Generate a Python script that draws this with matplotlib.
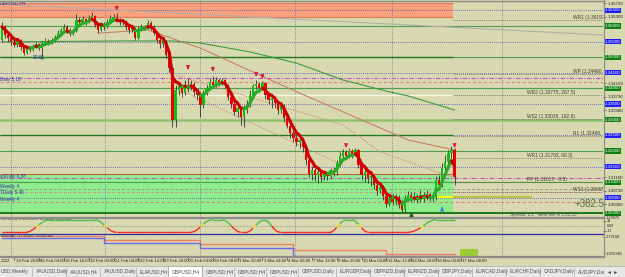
import matplotlib
matplotlib.use('Agg')
import matplotlib.pyplot as plt
from matplotlib.lines import Line2D
from matplotlib.patches import Rectangle
from matplotlib.collections import LineCollection
import numpy as np
import pandas as pd

plt.rcParams['font.family'] = ['Liberation Sans', 'DejaVu Sans']

# ---------------- data ----------------
first_open = 1.3555
close = [1.3597, 1.3571, 1.3561, 1.3549, 1.3539, 1.3555, 1.3533, 1.3513, 1.3526, 1.3523,
         1.3536, 1.3542, 1.3529, 1.3545, 1.3552, 1.3545, 1.3555, 1.3565, 1.3577, 1.3587,
         1.3597, 1.3587, 1.3574, 1.3584, 1.3619, 1.3613, 1.3622, 1.3613, 1.3625, 1.3632,
         1.3603, 1.3587, 1.3603, 1.3597, 1.3613, 1.3622, 1.3629, 1.3619, 1.3613, 1.3616,
         1.3597, 1.3587, 1.3593, 1.3561, 1.3587, 1.3597, 1.3593, 1.3609, 1.3597, 1.3577,
         1.3555, 1.3542, 1.3552, 1.3507, 1.3465, 1.3299, 1.3395, 1.3408, 1.3385, 1.3411,
         1.3401, 1.3414, 1.3389, 1.3379, 1.3347, 1.3385, 1.3401, 1.3421, 1.3411, 1.3427,
         1.3417, 1.3427, 1.3411, 1.3373, 1.3350, 1.3325, 1.3337, 1.3309, 1.3331, 1.3347,
         1.3379, 1.3408, 1.3414, 1.3401, 1.3417, 1.3379, 1.3363, 1.3369, 1.3353, 1.3331,
         1.3344, 1.3305, 1.3280, 1.3257, 1.3241, 1.3229, 1.3235, 1.3213, 1.3171, 1.3126,
         1.3139, 1.3123, 1.3133, 1.3117, 1.3126, 1.3120, 1.3139, 1.3133, 1.3161, 1.3184,
         1.3197, 1.3184, 1.3200, 1.3187, 1.3203, 1.3155, 1.3123, 1.3133, 1.3113, 1.3120,
         1.3091, 1.3072, 1.3085, 1.3056, 1.3030, 1.3049, 1.3037, 1.3053, 1.3027, 1.3011,
         1.3049, 1.3059, 1.3046, 1.3056, 1.3043, 1.3059, 1.3049, 1.3062, 1.3046, 1.3053,
         1.3107, 1.3091, 1.3145, 1.3165, 1.3193, 1.3203, 1.3117]
high = [1.3613, 1.3603, 1.3577, 1.3568, 1.3561, 1.3561, 1.3558, 1.3539, 1.3536, 1.3536,
        1.3542, 1.3549, 1.3545, 1.3552, 1.3561, 1.3558, 1.3561, 1.3571, 1.3587, 1.3593,
        1.3606, 1.3603, 1.3593, 1.3590, 1.3638, 1.3629, 1.3632, 1.3625, 1.3635, 1.3645,
        1.3635, 1.3613, 1.3613, 1.3613, 1.3622, 1.3635, 1.3638, 1.3641, 1.3625, 1.3622,
        1.3619, 1.3603, 1.3603, 1.3597, 1.3600, 1.3606, 1.3603, 1.3619, 1.3616, 1.3603,
        1.3584, 1.3561, 1.3561, 1.3555, 1.3513, 1.3472, 1.3411, 1.3417, 1.3414, 1.3427,
        1.3433, 1.3427, 1.3421, 1.3401, 1.3389, 1.3395, 1.3411, 1.3433, 1.3440, 1.3437,
        1.3433, 1.3433, 1.3430, 1.3414, 1.3379, 1.3363, 1.3353, 1.3344, 1.3347, 1.3363,
        1.3395, 1.3414, 1.3427, 1.3421, 1.3424, 1.3420, 1.3382, 1.3379, 1.3376, 1.3360,
        1.3350, 1.3350, 1.3312, 1.3286, 1.3267, 1.3251, 1.3245, 1.3238, 1.3219, 1.3177,
        1.3152, 1.3145, 1.3145, 1.3139, 1.3136, 1.3133, 1.3145, 1.3149, 1.3171, 1.3197,
        1.3206, 1.3203, 1.3209, 1.3206, 1.3209, 1.3206, 1.3161, 1.3142, 1.3136, 1.3129,
        1.3123, 1.3097, 1.3094, 1.3091, 1.3065, 1.3059, 1.3062, 1.3062, 1.3059, 1.3043,
        1.3059, 1.3072, 1.3069, 1.3069, 1.3062, 1.3075, 1.3069, 1.3075, 1.3065, 1.3062,
        1.3120, 1.3123, 1.3161, 1.3187, 1.3203, 1.3216, 1.3209]
low = [1.3549, 1.3561, 1.3549, 1.3539, 1.3533, 1.3533, 1.3523, 1.3507, 1.3510, 1.3517,
       1.3520, 1.3529, 1.3523, 1.3501, 1.3539, 1.3539, 1.3542, 1.3549, 1.3561, 1.3571,
       1.3581, 1.3577, 1.3568, 1.3571, 1.3581, 1.3600, 1.3606, 1.3603, 1.3609, 1.3619,
       1.3597, 1.3577, 1.3584, 1.3587, 1.3593, 1.3606, 1.3616, 1.3613, 1.3603, 1.3603,
       1.3587, 1.3577, 1.3581, 1.3555, 1.3558, 1.3584, 1.3587, 1.3590, 1.3587, 1.3571,
       1.3545, 1.3529, 1.3533, 1.3497, 1.3453, 1.3277, 1.3277, 1.3379, 1.3373, 1.3379,
       1.3389, 1.3395, 1.3376, 1.3363, 1.3309, 1.3337, 1.3379, 1.3395, 1.3401, 1.3405,
       1.3408, 1.3411, 1.3401, 1.3363, 1.3337, 1.3315, 1.3309, 1.3283, 1.3277, 1.3321,
       1.3341, 1.3369, 1.3398, 1.3389, 1.3395, 1.3366, 1.3350, 1.3337, 1.3337, 1.3318,
       1.3321, 1.3293, 1.3273, 1.3241, 1.3229, 1.3216, 1.3209, 1.3197, 1.3155, 1.3117,
       1.3107, 1.3104, 1.3097, 1.3101, 1.3107, 1.3107, 1.3113, 1.3120, 1.3123, 1.3152,
       1.3171, 1.3174, 1.3177, 1.3177, 1.3184, 1.3145, 1.3107, 1.3101, 1.3097, 1.3088,
       1.3078, 1.3059, 1.3065, 1.3043, 1.3021, 1.3024, 1.3027, 1.3027, 1.3017, 1.3005,
       1.3005, 1.3040, 1.3037, 1.3040, 1.3033, 1.3037, 1.3037, 1.3043, 1.3040, 1.3037,
       1.3043, 1.3075, 1.3085, 1.3139, 1.3155, 1.3177, 1.3091]

# oscillator (upper sub-window)
osc = [-14, -14, -14, -14, -14, -14, -14, -14, -14, -12, -8, -3, 3, 8, 12,
       14, 14, 14, 14, 14, 14, 14, 14, 14, 14, 14, 14, 14, 14, 14, 14,
       12, 8, 2, -4, -10, -13,
       -14, -14, -14, -14, -14, -14, -14, -14, -14, -14, -14, -14, -14,
       -14, -14, -14, -14, -14, -14, -14, -14, -14, -14, -14, -14,
       -12, -8, -2, 5, 10, 13,
       14, 14, 14, 14,
       12, 7, 0, -7, -12,
       -14, -14, -14,
       -11, -5, 2, 9, 13, 13,
       8, 0, -8, -13,
       -14, -14, -14, -14, -14, -14, -14, -14, -14, -14, -14, -14, -14, -14, -14, -14, -14,
       -10, -3, 5, 11, 14,
       14, 14,
       11, 4, -4, -11,
       -14, -14, -14, -14, -14, -14, -14, -14, -14, -14, -14, -14, -14, -14,
       -13, -11, -8, -4, 1, 6, 10, 13,
       14, 14, 14, 14, 14, 14, 14]

# lower sub-window step series
step_bars = [0, 33, 64, 94, 124, 146]
salmon_steps = [-744712, -936901, -1156545, -1486011, -1678200, -1678200]
blue_steps = [-827079, -1101634, -1376189, -1842932, -1842932, -1842932]

# long moving averages (vertices)
ma_long_bars = [0, 40, 55, 64, 80, 95, 110, 125, 131, 146]
ma_long_prices = [1.3549, 1.3552, 1.3552, 1.3545, 1.3517, 1.3481, 1.3427, 1.3389, 1.3376, 1.3331]
ma_brown_bars = [31, 47, 64, 96, 131, 146]
ma_brown_prices = [1.3577, 1.3587, 1.3529, 1.3385, 1.3235, 1.3203]
trend_bars = [56, 110, 122, 146]
trend_prices = [1.3443, 1.3283, 1.3197, 1.3113]
trend2_bars = [56, 110]
trend2_prices = [1.3401, 1.3155]
gray_bars = [-0.6, 193.9]
gray_prices = [1.3670, 1.3571]

# levels
round_levels = [1.3600, 1.3500, 1.3400, 1.3300, 1.3200, 1.3100, 1.3000]
half_levels = [1.3650, 1.3550, 1.3450, 1.3350, 1.3250, 1.3150, 1.3050]
tick_prices = [1.36730, 1.36300, 1.35870, 1.35440, 1.35010, 1.34590, 1.34160, 1.33730,
               1.33300, 1.32870, 1.32440, 1.32010, 1.31590, 1.31160, 1.30730, 1.30300, 1.29870]
resist_zone = (1.3629, 1.3673)
support_zone = (1.3005, 1.3126)
# right-hand pivot labels (column A is cut by the price scale, as in the terminal)
pivots_a = [("WR1 (1.36193,", 1.36193), ("WP (1.34460,", 1.34460),
            ("R1 (1.32488,", 1.32488), ("WS1 (1.30695,", 1.30695)]
pivots_b = [("WR2 (1.33775, 267.5)", 1.33775), ("WS2 (1.33028, 192.9)", 1.33028),
            ("WR1 (1.31783, 68.3)", 1.31783), ("PP (1.31017, -8.3)", 1.31017)]
sell_bars = [37, 60, 68, 82, 84, 111, 146]
sell_prices = [1.3664, 1.3475, 1.3469, 1.3453, 1.3446, 1.3225, 1.3225]
buy_bars = [13, 142]
buy_prices = [1.3495, 1.3008]

label_bars = [4, 12, 20, 28, 36, 44, 52, 60, 68, 76, 84, 92, 100, 108, 116, 124, 132, 140, 148]
label_texts = ["14 Feb 20:00", "16 Feb 04:00", "16 Feb 16:00", "18 Feb 00:00", "21 Feb 04:00",
               "22 Feb 12:00", "23 Feb 20:00", "25 Feb 04:00", "28 Feb 08:00", "1 Mar 20:00",
               "3 Mar 04:00", "4 Mar 08:00", "7 Mar 12:00", "8 Mar 20:00", "10 Mar 04:00",
               "11 Mar 12:00", "14 Mar 20:00", "16 Mar 00:00", "17 Mar 08:00"]
tab_labels = ["USD,Weekly", "XAUUSD,Daily", "XAUUSD,H4", "XAUUSD,Daily", "EURUSD,H4",
              "GBPUSD,H4", "GBPUSD,H4", "GBPUSD,H4", "GBPUSD,H4", "GBPUSD,Daily",
              "EURGBP,Daily", "GBPNZD,Daily", "EURNZD,Daily", "GBPJPY,Daily", "EURCAD,Daily",
              "EURCHF,Daily", "CADJPY,Daily", "AUDJPY,Dai"]

# ---------------- layout ----------------
W, H = 625, 277
BG = '#d9d9b1'
P_TOP = 1.3683
P_BOT = P_TOP - 217 * 0.00032
N = len(close)
bars = np.arange(N)
c = np.array(close)
o = np.array([first_open] + close[:-1])
hi = np.maximum(np.array(high), np.maximum(o, c))
lo = np.minimum(np.array(low), np.minimum(o, c))

fig = plt.figure(figsize=(W / 100, H / 100), dpi=100)
fig.patch.set_facecolor(BG)


def frect(x0, y0, x1, y1):
    return [x0 / W, 1 - y1 / H, (x1 - x0) / W, (y1 - y0) / H]


def bx(px):
    return (px - 2) / 3.1


XL = (bx(0), bx(603))
ZONE_END = bx(453)
vgrid = [bx(v) for v in (11, 105, 200, 295, 392, 502)]

ax = fig.add_axes(frect(0, 0, 603, 217))
ax1 = fig.add_axes(frect(0, 218, 603, 234))
ax2 = fig.add_axes(frect(0, 234, 603, 257))
for a in (ax, ax1, ax2):
    a.set_facecolor(BG)
    a.set_xlim(*XL)
    for s in a.spines.values():
        s.set_visible(False)
    a.tick_params(left=False, bottom=False, labelbottom=False, labelleft=False)
    for v in vgrid:
        a.axvline(v, color='#6868b0', lw=0.6, ls=(0, (1, 1.6)), zorder=0.6)
ax.set_ylim(P_BOT, P_TOP)

# zones
ax.add_patch(Rectangle((XL[0], resist_zone[0]), ZONE_END - XL[0], resist_zone[1] - resist_zone[0],
                       fc='#f9a07c', ec='none', zorder=0.5))
ax.hlines(list(resist_zone), XL[0], ZONE_END, color='#e47a55', lw=0.8, zorder=0.7)
ax.add_patch(Rectangle((XL[0], support_zone[0]), ZONE_END - XL[0], support_zone[1] - support_zone[0],
                       fc='#8eee8e', ec='none', zorder=0.5))
ax.hlines(support_zone[1], XL[0], ZONE_END, color='#c0603c', lw=0.8, zorder=0.7)

# horizontal levels
ax.hlines(half_levels, XL[0], XL[1], colors='#4848c8', lw=0.6, linestyles=(0, (1, 1.5)), zorder=0.8)
for lv in round_levels:
    if lv == 1.33:
        ax.axhline(lv, color='#8cc46c', lw=1.8, zorder=0.8)
    elif lv == 1.30:
        ax.axhline(lv, color='#0e700e', lw=1.3, zorder=0.8)
    else:
        ax.axhline(lv, color='#4ea04e', lw=0.8, zorder=0.8)
ax.hlines([1.3250, 1.3500], XL[0], ZONE_END, color='#227a22', lw=1.0, zorder=0.85)
ax.hlines(1.33775, XL[0], ZONE_END, color='#f6f6e4', lw=1.0, zorder=0.85)
ax.axhline(1.3433, color='#c84ac8', lw=0.8, ls=(0, (4, 1.5, 1, 1.5)), zorder=0.85)
ax.axhline(1.3421, color='#e48484', lw=0.8, ls=(0, (3, 2)), zorder=0.85)
ax.axhline(1.3113, color='#c84ac8', lw=0.8, ls=(0, (4, 1.5, 1, 1.5)), zorder=0.85)
ax.axhline(1.3078, color='#a09090', lw=0.7, ls=(0, (3, 2)), zorder=0.85)
ax.axhline(1.3069, color='#d89090', lw=0.7, ls=(0, (3, 2)), zorder=0.85)
ax.axhline(1.3037, color='#e08080', lw=0.8, ls=(0, (3, 2)), zorder=0.85)
for lbl, pv in pivots_a + pivots_b:
    ax.hlines(pv, ZONE_END, XL[1], color='#6c6c48', lw=0.6, linestyles=(0, (1, 1.3)), zorder=0.85)
for lbl, pv in pivots_a:
    ax.text(bx(573), pv, lbl, fontsize=3.5, color='#3c3c28', va='bottom', ha='left',
            clip_on=True, zorder=5)
for lbl, pv in pivots_b:
    ax.text(bx(527), pv, lbl, fontsize=3.5, color='#3c3c28', va='bottom', ha='left',
            clip_on=True, zorder=5)

# yellow line
ax.hlines(1.3052, bx(437), ZONE_END, color='#ffff00', lw=1.6, zorder=1.2)
ax.hlines(1.3052, ZONE_END, bx(532), color='#b8c444', lw=1.6, zorder=1.2)

# trend lines / MAs
ax.plot(gray_bars, gray_prices, color='#b0b0a8', lw=0.8, zorder=0.9)
ax.plot(ma_long_bars, ma_long_prices, color='#3c9c3c', lw=0.8, zorder=1)
ax.plot(ma_brown_bars, ma_brown_prices, color='#c07860', lw=0.7, zorder=1)
ax.plot(trend_bars, trend_prices, color='#d08070', lw=0.6, ls=(0, (2, 1.5)), zorder=1)
ax.plot(trend2_bars, trend2_prices, color='#d08070', lw=0.6, ls=(0, (2, 1.5)), zorder=1)

# candles
up = c >= o
ax.vlines(bars, lo, hi, color='#303030', lw=0.6, zorder=2)
ax.bar(bars[up], (c - o)[up], bottom=o[up], width=0.72, color='#10c010', edgecolor='none', zorder=2.1)
ax.bar(bars[~up], (c - o)[~up], bottom=o[~up], width=0.72, color='#ee0000', edgecolor='none', zorder=2.1)

# fast MA colored by direction
ema = pd.Series(c).ewm(alpha=0.36, adjust=False).mean().values
segs = [[(i - 1, ema[i - 1]), (i, ema[i])] for i in range(1, N)]
cols = ['#2aa82a' if ema[i] >= ema[i - 1] else '#cc0000' for i in range(1, N)]
ax.add_collection(LineCollection(segs, colors=cols, linewidths=2.2, zorder=3, capstyle='round'))

# arrows
for b, pz in zip(sell_bars, sell_prices):
    ax.annotate('', xy=(b, pz - 0.0024), xytext=(b, pz),
                arrowprops=dict(arrowstyle='-|>', color='#dc1a4a', lw=1.0, mutation_scale=4.5), zorder=4)
for b, pz in zip(buy_bars, buy_prices):
    col = '#20a020' if b < 50 else '#3a7ae0'
    ax.annotate('', xy=(b, pz + 0.0022), xytext=(b, pz),
                arrowprops=dict(arrowstyle='-|>', color=col, lw=1.0, mutation_scale=4.5), zorder=4)
ax.plot([132], [1.29935], marker='^', ms=2.5, color='#106010', zorder=4, clip_on=False)

# left labels
small = dict(fontsize=3.3, zorder=5)
ax.text(bx(0), 1.3675, 'GBPUSD,H4', color='#2a2aa0', va='center', **small)
ax.text(bx(33), 1.3498, '20.88', color='#3030a0', va='center', **small)
ax.text(bx(0), 1.3430, 'Daily 5.18', color='#3030a0', va='center', **small)
ax.text(bx(0), 1.3117, 'xnDaily 6.88', color='#3030a0', va='center', **small)
ax.text(bx(0), 1.3086, 'Weekly 4', color='#3030a0', va='center', **small)
ax.text(bx(0), 1.3068, 'TDaily 5.48', color='#3030a0', va='center', **small)
ax.text(bx(0), 1.3046, 'Weekly 4', color='#3030a0', va='center', **small)
ax.text(bx(575), 1.3030, '+382.5', fontsize=7, color='#4e6e3e', va='center', ha='left', zorder=5)
ax.text(bx(510), 1.2996, 'Spread: 1.1   Next bar in 1:01:10', fontsize=3.3, color='#505050',
        va='center', ha='left', zorder=5)

# right price axis (plain ticks kept clear of the boxed level labels)
box_levels = half_levels + round_levels
shown_ticks = [p for p in tick_prices if min(abs(p - b) for b in box_levels) > 0.0015]
ax.yaxis.tick_right()
ax.set_yticks(shown_ticks)
ax.set_yticklabels([f'{p:.5f}' for p in shown_ticks])
ax.tick_params(axis='y', right=True, labelright=True, length=2, width=0.5, color='#404040',
               labelsize=3.2, pad=1, labelcolor='#202020')
for p in half_levels:
    ax.text(1.003, p, f'{p:.5f}', transform=ax.get_yaxis_transform(), fontsize=3.2, color='white',
            va='center', ha='left', clip_on=False, zorder=6,
            bbox=dict(boxstyle='square,pad=0.15', fc='#1c1cff', ec='none'))
for p in round_levels:
    ax.text(1.003, p, f'{p:.5f}', transform=ax.get_yaxis_transform(), fontsize=3.2, color='white',
            va='center', ha='left', clip_on=False, zorder=6,
            bbox=dict(boxstyle='square,pad=0.15', fc='#0a800a', ec='none'))
fig.text(606 / W, 1 - 216 / H, f'{tick_prices[-1]:.5f}', fontsize=2.8, color='#202020',
         va='top', ha='left')

# ---- oscillator window
ax1.set_ylim(-17.6, 17.6)
ax1.axhline(0, color='#707070', lw=0.5, ls=(0, (1, 1.5)))
ov = np.array(osc, dtype=float)
osegs = [[(i - 1, ov[i - 1]), (i, ov[i])] for i in range(1, N)]
ocols = []
for i in range(1, N):
    m = (ov[i] + ov[i - 1]) / 2
    ocols.append('#40c040' if m > 3 else ('#ff2020' if m < -3 else '#e8e000'))
ax1.add_collection(LineCollection(osegs, colors=ocols, linewidths=1.0))
ax1.text(bx(0), 14.5, 'Trend (x) 0 10.0000 10.0000 10.0000', fontsize=3.2, color='#303030', va='center')
ax1.yaxis.tick_right()
ax1.set_yticks([11, -11])
ax1.set_yticklabels(['11', '-11'])
ax1.tick_params(axis='y', right=True, labelright=True, length=2, width=0.5, labelsize=2.8, pad=1,
                labelcolor='#202020', color='#404040')
ax1.text(1.006, 0, '0.00', transform=ax1.get_yaxis_transform(), fontsize=2.6, color='#202020',
         va='center', ha='left', clip_on=False)

# ---- lower window
ax2.set_ylim(-1870388, -607435)
ax2.step(step_bars, salmon_steps, where='post', color='#f08060', lw=1.0)
ax2.step(step_bars, blue_steps, where='post', color='#6a6ae8', lw=1.0)
ax2.add_patch(Rectangle((bx(460), -1815000), bx(478) - bx(460), 400000, fc='#9ccc34', ec='none'))
ax2.text(bx(0), -740000, 'Volume: -772168 -1650748', fontsize=3.2, color='#303030', va='center')
ax2.yaxis.tick_right()
ax2.set_yticks([-772168, -1650748])
ax2.set_yticklabels(['-772168', '-1650748'])
ax2.tick_params(axis='y', right=True, labelright=True, length=1.5, width=0.5, labelsize=2.8, pad=0.5,
                labelcolor='#202020', color='#404040')

# time axis labels
for b, t in zip(label_bars, label_texts):
    xp = (2 + 3.1 * b) / W
    fig.add_artist(Line2D([xp, xp], [1 - 257 / H, 1 - 260 / H], color='#404040', lw=0.5))
    fig.text(xp + 1.2 / W, 1 - 261.5 / H, t, fontsize=3.1, color='#202020', va='center', ha='left')
fig.text(0.5 / W, 1 - 261.5 / H, '2022', fontsize=3.1, color='#202020', va='center', ha='left')


# separators
def hline_px(y, x0, x1, color, lw):
    fig.add_artist(Line2D([x0 / W, x1 / W], [1 - y / H, 1 - y / H], color=color, lw=lw))


hline_px(0.6, 0, 604, '#8a8a8a', 1.0)
hline_px(217.5, 0, 604, '#8c8c8c', 1.6)
hline_px(234, 0, 603, '#2e2ea0', 0.9)
hline_px(257, 0, 604, '#8c8c8c', 1.6)
fig.add_artist(Line2D([603.5 / W, 603.5 / W], [1 - 257 / H, 1.0], color='#8a8a8a', lw=0.8))

# tabs bar
fig.add_artist(Rectangle((0, 0), 1, 11 / H, transform=fig.transFigure, fc='#e8e8e8', ec='none'))
hline_px(266, 0, 625, '#b0b0b0', 0.6)
tab_x = [0, 35, 69, 103, 139, 171, 205, 237, 269, 301, 339, 373, 407, 441, 475, 509, 543, 577]
for k, (tx, tl) in enumerate(zip(tab_x, tab_labels)):
    if k == 5:
        fig.add_artist(Rectangle(((tx - 3) / W, 0), 34 / W, 11.5 / H, transform=fig.transFigure,
                                 fc='white', ec='#909090', lw=0.5))
    elif k > 0:
        fig.add_artist(Line2D([(tx - 3) / W] * 2, [1 / H, 9 / H], color='#a8a8a8', lw=0.5))
    fig.text((tx + 1) / W, 5 / H, tl, fontsize=3.5, color='#505050', va='center', ha='left')
fig.text(607 / W, 5 / H, '\u25c4 \u25ba', fontsize=3.5, color='#404040', va='center', ha='left')

fig.savefig('out.png', dpi=100, facecolor=fig.get_facecolor())
